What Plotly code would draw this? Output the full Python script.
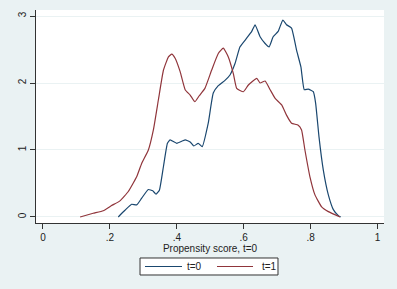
import plotly.graph_objects as go

# t=0 density (propensity score)
x_t0 = [0.225, 0.245, 0.265, 0.28, 0.295, 0.315, 0.328, 0.338, 0.348, 0.36, 0.372, 0.38,
        0.40, 0.425, 0.44, 0.451, 0.464, 0.476, 0.494, 0.509, 0.524, 0.544, 0.559, 0.574,
        0.589, 0.609, 0.624, 0.634, 0.649, 0.664, 0.676, 0.688, 0.703, 0.717, 0.728,
        0.743, 0.758, 0.771, 0.781, 0.793, 0.808, 0.815, 0.825, 0.838, 0.853, 0.868,
        0.883, 0.89]
y_t0 = [0.0, 0.10, 0.19, 0.18, 0.28, 0.41, 0.39, 0.34, 0.40, 0.75, 1.10, 1.15,
        1.10, 1.15, 1.12, 1.06, 1.10, 1.05, 1.40, 1.85, 1.96, 2.04, 2.12, 2.29,
        2.54, 2.67, 2.77, 2.87, 2.69, 2.59, 2.54, 2.69, 2.77, 2.94, 2.87,
        2.82, 2.49, 2.24, 1.90, 1.91, 1.87, 1.70, 1.20, 0.70, 0.33, 0.11,
        0.02, 0.0]

# t=1 density
x_t1 = [0.111, 0.15, 0.18, 0.205, 0.23, 0.255, 0.28, 0.295, 0.315, 0.33, 0.345, 0.36,
        0.375, 0.385, 0.395, 0.41, 0.425, 0.44, 0.454, 0.467, 0.484, 0.504, 0.524,
        0.539, 0.554, 0.569, 0.579, 0.599, 0.614, 0.639, 0.649, 0.664, 0.679, 0.694,
        0.714, 0.728, 0.743, 0.763, 0.773, 0.783, 0.798, 0.813, 0.833, 0.853, 0.888]
y_t1 = [0.0, 0.055, 0.094, 0.17, 0.24, 0.38, 0.60, 0.80, 1.0, 1.30, 1.75, 2.19,
        2.39, 2.43, 2.37, 2.17, 1.90, 1.82, 1.72, 1.81, 1.92, 2.19, 2.44,
        2.52, 2.39, 2.14, 1.92, 1.87, 1.97, 2.07, 2.00, 2.03, 1.90, 1.77,
        1.67, 1.52, 1.40, 1.37, 1.30, 1.0, 0.60, 0.33, 0.15, 0.08, 0.0]

x_ticks = [0, 0.2, 0.4, 0.6, 0.8, 1]
x_labels = ["0", ".2", ".4", ".6", ".8", "1"]
y_ticks = [0, 1, 2, 3]
y_labels = ["0", "1", "2", "3"]
series_names = ["t=0", "t=1"]

NAVY = "#1A476F"
MAROON = "#90353B"
BG = "#EAF2F3"
FONT = "Liberation Sans, Arial, sans-serif"
colors = [NAVY, MAROON]

fig = go.Figure()
for xs, ys, name, col in [(x_t0, y_t0, series_names[0], NAVY), (x_t1, y_t1, series_names[1], MAROON)]:
    fig.add_trace(go.Scatter(x=xs, y=ys, mode="lines", name=name, showlegend=False,
                             line=dict(color=col, width=1.2, shape="spline", smoothing=0.4)))

# Stata-style legend box below the plot (paper coordinates)
fig.add_shape(type="rect", xref="paper", yref="paper",
              x0=0.2989, x1=0.6954, y0=-0.2441, y1=-0.1643,
              fillcolor="white", line=dict(color="#333333", width=1))
leg_y = -0.2042
line_pos = [(0.3132, 0.4195, 0.4282), (0.5201, 0.6236, 0.6437)]
for (lx0, lx1, tx), name, col in zip(line_pos, series_names, colors):
    fig.add_shape(type="line", xref="paper", yref="paper",
                  x0=lx0, x1=lx1, y0=leg_y, y1=leg_y,
                  line=dict(color=col, width=1.2))
    fig.add_annotation(x=tx, y=leg_y, xref="paper", yref="paper", text=name,
                       showarrow=False, xanchor="left", yanchor="middle",
                       font=dict(size=10, color="#222222"))

fig.update_layout(
    width=397, height=289,
    paper_bgcolor=BG, plot_bgcolor="white",
    margin=dict(l=36, r=13, t=10, b=66, autoexpand=False),
    font=dict(family=FONT, size=10, color="#222222"),
    showlegend=False,
    xaxis=dict(range=[-0.0209, 1.0194], tickvals=x_ticks, ticktext=x_labels,
               showline=True, linecolor="#333333", linewidth=1,
               ticks="outside", ticklen=5, tickcolor="#333333",
               showgrid=False, zeroline=False, automargin=False,
               title=dict(text="Propensity score, t=0", standoff=1, font=dict(size=10))),
    yaxis=dict(range=[-0.09, 3.09], tickvals=y_ticks, ticktext=y_labels,
               showline=True, linecolor="#333333", linewidth=1,
               ticks="outside", ticklen=5, tickcolor="#333333", tickangle=-90,
               showgrid=True, gridcolor=BG, gridwidth=1, zeroline=False,
               automargin=False),
)

fig.write_html("out.html")
